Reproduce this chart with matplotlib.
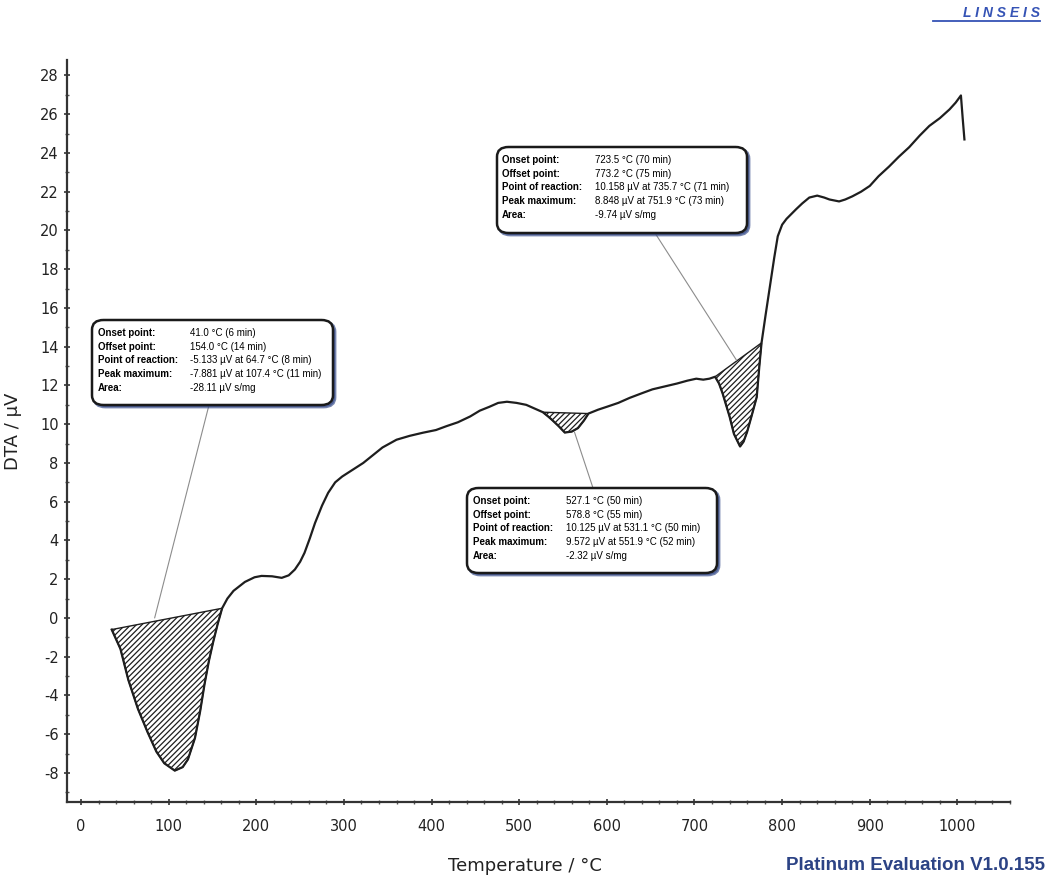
import matplotlib.pyplot as plt
from matplotlib.patches import FancyBboxPatch
from matplotlib.lines import Line2D
from matplotlib.ticker import MultipleLocator

plt.rcParams["axes.unicode_minus"] = False
plt.rcParams["hatch.linewidth"] = 0.9

# DTA trace: temperature (degC) and signal (uV)
temperature = [35, 45, 54, 65, 76, 86, 95, 107, 116, 122, 130, 136, 141, 146, 151, 156, 161,
               167, 174, 187, 198, 206, 218, 229, 237, 244, 250, 255, 261, 267, 275, 282, 290,
               298, 310, 322, 333, 344, 360, 375, 390, 405, 417, 430, 444, 455, 466, 476, 486,
               497, 508, 518, 527, 533, 538, 545, 552, 560, 567, 574, 579, 590, 600, 613, 626,
               640, 652, 666, 680, 692, 702, 710, 717, 723.5, 728, 732, 736, 740, 745, 752,
               756, 760, 765, 771, 774, 776.5, 781, 786, 791, 795, 800, 805, 816, 823, 831,
               840, 848, 854, 865, 872, 880, 890, 900, 910, 922, 933, 945, 957, 968, 980, 991,
               998, 1004, 1006, 1008]
dta = [-0.6, -1.6, -3.2, -4.7, -5.9, -6.9, -7.5, -7.88, -7.7, -7.3, -6.2, -4.8, -3.4, -2.2,
       -1.2, -0.3, 0.5, 1.0, 1.4, 1.86, 2.1, 2.17, 2.15, 2.07, 2.2, 2.5, 2.9, 3.36, 4.1, 4.9,
       5.8, 6.46, 7.0, 7.3, 7.65, 8.0, 8.4, 8.8, 9.2, 9.4, 9.56, 9.7, 9.9, 10.1, 10.4, 10.7,
       10.9, 11.1, 11.16, 11.1, 11.0, 10.8, 10.62, 10.4, 10.2, 9.9, 9.57, 9.62, 9.8, 10.2,
       10.55, 10.75, 10.9, 11.1, 11.36, 11.6, 11.8, 11.95, 12.1, 12.25, 12.35, 12.3, 12.35,
       12.45, 12.1, 11.6, 11.0, 10.4, 9.5, 8.85, 9.1, 9.6, 10.4, 11.4, 13.0, 14.2, 15.6, 17.1,
       18.6, 19.7, 20.3, 20.6, 21.1, 21.4, 21.7, 21.8, 21.7, 21.6, 21.5, 21.6, 21.76, 22.0,
       22.3, 22.8, 23.3, 23.8, 24.3, 24.9, 25.4, 25.8, 26.25, 26.6, 26.97, 25.8, 24.7]

# integrated peaks (start / end temperature of the hatched area)
peak_start = [35, 527, 723.5]
peak_end = [161, 579, 776.5]

# evaluation results per peak
result_labels = ["Onset point:", "Offset point:", "Point of reaction:", "Peak maximum:", "Area:"]
peak1_values = ["41.0 °C (6 min)", "154.0 °C (14 min)", "-5.133 µV at 64.7 °C (8 min)",
                "-7.881 µV at 107.4 °C (11 min)", "-28.11 µV s/mg"]
peak2_values = ["527.1 °C (50 min)", "578.8 °C (55 min)", "10.125 µV at 531.1 °C (50 min)",
                "9.572 µV at 551.9 °C (52 min)", "-2.32 µV s/mg"]
peak3_values = ["723.5 °C (70 min)", "773.2 °C (75 min)", "10.158 µV at 735.7 °C (71 min)",
                "8.848 µV at 751.9 °C (73 min)", "-9.74 µV s/mg"]
# where each leader line touches the peak
leader_points = [(84, 0.0), (563, 9.6), (748, 13.3)]

W, H = 1051, 885
fig = plt.figure(figsize=(W / 100, H / 100), dpi=100)
ax = fig.add_axes([67 / W, 1 - 802 / H, (1010 - 67) / W, (802 - 60) / H])


def fx(px):
    return px / W


def fy(py):
    return 1 - py / H


ax.plot(temperature, dta, color="#1e1e1e", lw=1.6, zorder=3)

# hatched peak areas, closed by a straight baseline
for t0, t1 in zip(peak_start, peak_end):
    xs = [t for t in temperature if t0 <= t <= t1]
    ys = [v for t, v in zip(temperature, dta) if t0 <= t <= t1]
    ax.fill(xs, ys, facecolor="none", edgecolor="#1e1e1e", hatch="//////", lw=1.0, zorder=2)

ax.set_xlim(-16, 1060)
ax.set_ylim(-9.5, 28.8)
ax.xaxis.set_minor_locator(MultipleLocator(20))
ax.yaxis.set_minor_locator(MultipleLocator(1))
ax.set_xticks(range(0, 1001, 100))
ax.set_yticks(range(-8, 29, 2))
for s in ["top", "right"]:
    ax.spines[s].set_visible(False)
for s in ["left", "bottom"]:
    ax.spines[s].set_linewidth(1.6)
    ax.spines[s].set_color("#333333")
ax.tick_params(which="major", length=5, width=1.2, colors="#333333", labelsize=10.5,
               labelcolor="#222222", direction="inout")
ax.tick_params(which="minor", length=3, width=1.0, colors="#555555", direction="inout")
ax.tick_params(axis="x", pad=10)

ax.set_xlabel("Temperature / °C", fontsize=13, color="#222222")
ax.set_ylabel("DTA / µV", fontsize=13, color="#222222")
ax.xaxis.set_label_coords((525 - 67) / 943, (802 - 857) / 742)
ax.yaxis.set_label_coords((22 - 67) / 943, 0.5)


def result_box(x0, y0, x1, y1, values, label_dx, value_dx, leader_from, leader_to):
    shadow = FancyBboxPatch((fx(x0 + 2), fy(y1 + 2)), fx(x1 - x0), (y1 - y0) / H,
                            boxstyle="round,pad=0,rounding_size=0.011",
                            transform=fig.transFigure, facecolor="#3a4f8c",
                            edgecolor="#3a4f8c", lw=2, alpha=0.7, zorder=5)
    box = FancyBboxPatch((fx(x0), fy(y1)), fx(x1 - x0), (y1 - y0) / H,
                         boxstyle="round,pad=0,rounding_size=0.011",
                         transform=fig.transFigure, facecolor="white",
                         edgecolor="#1a1a1a", lw=1.8, zorder=6)
    fig.patches.append(shadow)
    fig.patches.append(box)
    for i, (lab, val) in enumerate(zip(result_labels, values)):
        yy = fy(y0 + 13 + i * 13.7)
        fig.text(fx(x0 + label_dx), yy, lab, fontsize=7, fontweight="bold",
                 family="Liberation Sans", va="center", zorder=7)
        fig.text(fx(x0 + value_dx), yy, val, fontsize=7, family="Liberation Sans",
                 va="center", zorder=7)
    ax.annotate("", xy=leader_to, xycoords="data",
                xytext=(fx(leader_from[0]), fy(leader_from[1])), textcoords="figure fraction",
                arrowprops=dict(arrowstyle="-", color="#8c8c8c", lw=0.8,
                                shrinkA=0, shrinkB=0), zorder=4)


result_box(92, 320, 333, 405, peak1_values, 6, 98, (209, 405), leader_points[0])
result_box(467, 488, 717, 573, peak2_values, 6, 99, (593, 488), leader_points[1])
result_box(497, 147, 747, 233, peak3_values, 5, 98, (655, 233), leader_points[2])

# software and maker marks
fig.text(fx(1045), fy(866), "Platinum Evaluation V1.0.155", fontsize=13.5, fontweight="bold",
         family="Liberation Sans", color="#2c4385", ha="right", va="center")
fig.text(fx(1040), fy(13), "L I N S E I S", fontsize=10, fontweight="bold", style="italic",
         family="Liberation Sans", color="#3553b5", ha="right", va="center")
fig.lines.append(Line2D([fx(933), fx(1040)], [fy(21), fy(21)], transform=fig.transFigure,
                        color="#3553b5", lw=1.3))

fig.savefig("out.png", dpi=100)
